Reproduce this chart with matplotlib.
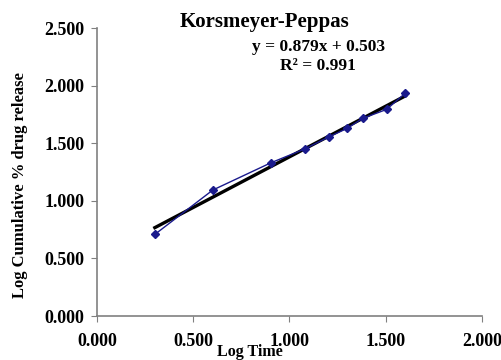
import numpy as np
import matplotlib.pyplot as plt

plt.rcParams['font.family'] = 'Liberation Serif'
plt.rcParams['font.weight'] = 'bold'

# data
log_time = [0.301, 0.602, 0.903, 1.079, 1.204, 1.301, 1.380, 1.505, 1.602]
log_release = [0.709, 1.094, 1.330, 1.450, 1.555, 1.630, 1.716, 1.794, 1.935]
slope = 0.879
intercept = 0.503
r2 = 0.991

fig = plt.figure(figsize=(5.02, 3.6), dpi=100)
ax = fig.add_axes([0.193, 0.122, 0.767, 0.8])

ax.plot(log_time, log_release, color='#1a1a8c', lw=1.0, marker='D', ms=4.5,
        markerfacecolor='#1a1a8c', markeredgecolor='#1a1a8c', zorder=3)

xt = np.array([log_time[0], log_time[-1]])
ax.plot(xt, slope * xt + intercept, color='black', lw=2.4, zorder=2)

ax.set_xlim(0, 2)
ax.set_ylim(0, 2.5)
ax.set_xticks([0, 0.5, 1.0, 1.5, 2.0])
ax.set_yticks([0, 0.5, 1.0, 1.5, 2.0, 2.5])
ax.set_xticklabels(['%.3f' % v for v in ax.get_xticks()])
ax.set_yticklabels(['%.3f' % v for v in ax.get_yticks()])
ax.tick_params(labelsize=13, colors='black', length=4, color='#808080')
ax.tick_params(axis='x', pad=8)
ax.tick_params(axis='y', pad=5)

for s in ['top', 'right']:
    ax.spines[s].set_visible(False)
for s in ['left', 'bottom']:
    ax.spines[s].set_color('#808080')
    ax.spines[s].set_linewidth(1.2)

fig.text(0.040, 0.486, 'Log Cumulative % drug release', rotation=90, ha='center', va='center',
         fontsize=12, fontweight='bold')
fig.text(0.497, 0.0, 'Log Time', ha='center', va='bottom', fontsize=11.5, fontweight='bold')

fig.text(0.526, 0.938, 'Korsmeyer-Peppas', ha='center', va='center', fontsize=15, fontweight='bold')
fig.text(0.634, 0.869, 'y = %.3fx + %.3f' % (slope, intercept), ha='center', va='center',
         fontsize=12.5, fontweight='bold')
fig.text(0.634, 0.818, 'R² = %.3f' % r2, ha='center', va='center', fontsize=12.5, fontweight='bold')

fig.savefig('out.png', dpi=100)
